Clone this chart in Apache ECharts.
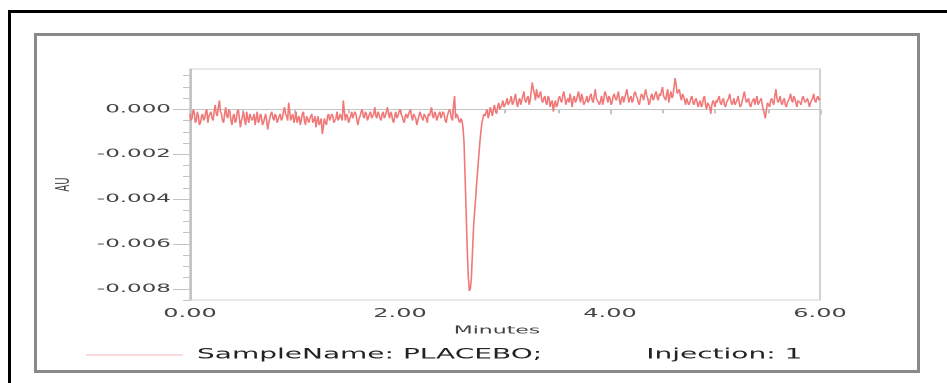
<!DOCTYPE html>
<html>
<head>
<meta charset="utf-8">
<script src="https://cdn.jsdelivr.net/npm/echarts@6/dist/echarts.min.js"></script>
<style>
html, body { margin: 0; padding: 0; background: #fff; width: 947px; height: 383px; overflow: hidden; }
#outer { position: absolute; left: 8px; top: 10px; right: 0; bottom: 0; border-top: 3px solid #000; border-left: 3px solid #000; }
#frame { position: absolute; left: 34px; top: 33px; width: 886px; height: 340px; box-sizing: border-box; border: 3px solid #8a8a8a; background: #fff; }
/* the original print is stretched sideways, so the chart is drawn at half width and scaled */
#main { position: absolute; left: 0; top: 0; width: 473.5px; height: 383px; transform: scaleX(2); transform-origin: 0 0; }
</style>
</head>
<body>
<div id="outer"></div>
<div id="frame"></div>
<div id="main"></div>
<script>
var sampleName = 'SampleName: PLACEBO;';
var injection = 'Injection: 1';
var xTitle = 'Minutes';
var yTitle = 'AU';

// detector trace, one reading every 0.01 min from 0.00 to 6.00 (20 per row = 0.2 min)
var startTime = 0;
var sampleStep = 0.01;
var absorbance = [
  -0.0002, -0.0005, -0.0004, 0.0000, -0.0001, -0.0006, -0.0005, -0.0001, -0.0003, -0.0007, -0.0006, -0.0003, -0.0002, -0.0005, -0.0004, -0.0001, 0.0000, -0.0006, -0.0003, -0.0002,
  -0.0001, -0.0004, -0.0005, -0.0001, 0.0002, -0.0002, -0.0003, 0.0001, 0.0004, -0.0001, -0.0002, -0.0005, -0.0006, -0.0002, 0.0001, -0.0003, -0.0004, 0.0000, -0.0001, -0.0005,
  -0.0007, -0.0003, -0.0002, -0.0006, -0.0005, -0.0001, 0.0000, -0.0004, -0.0008, -0.0005, -0.0003, -0.0001, -0.0005, -0.0007, -0.0001, -0.0004, -0.0006, -0.0002, -0.0002, -0.0005,
  -0.0004, -0.0002, -0.0007, -0.0004, -0.0001, -0.0006, -0.0005, -0.0002, -0.0003, -0.0007, -0.0006, -0.0004, -0.0002, -0.0005, -0.0009, -0.0006, -0.0004, -0.0002, -0.0001, -0.0004,
  -0.0005, -0.0002, -0.0003, -0.0006, -0.0006, -0.0003, -0.0002, -0.0005, -0.0004, -0.0001, 0.0001, -0.0002, -0.0003, -0.0005, 0.0003, -0.0001, -0.0005, -0.0003, -0.0002, -0.0006,
  -0.0004, -0.0001, -0.0006, -0.0004, -0.0003, -0.0007, -0.0005, -0.0002, -0.0001, -0.0005, -0.0007, -0.0003, -0.0004, -0.0006, -0.0006, -0.0003, -0.0002, -0.0006, -0.0005, -0.0003,
  -0.0008, -0.0005, -0.0003, -0.0007, -0.0006, -0.0004, -0.0011, -0.0008, -0.0004, -0.0006, -0.0007, -0.0003, -0.0002, -0.0005, -0.0005, -0.0002, -0.0003, -0.0006, -0.0006, -0.0004,
  -0.0001, -0.0005, -0.0004, -0.0002, -0.0002, -0.0005, 0.0004, -0.0001, -0.0005, -0.0002, -0.0003, -0.0006, -0.0006, -0.0003, -0.0001, -0.0004, -0.0004, -0.0001, -0.0002, -0.0005,
  -0.0007, -0.0004, -0.0003, -0.0001, 0.0000, -0.0003, -0.0004, -0.0001, -0.0002, -0.0005, -0.0005, -0.0002, -0.0001, -0.0004, -0.0003, -0.0002, 0.0001, -0.0003, -0.0004, -0.0001,
  -0.0002, -0.0004, -0.0005, -0.0002, -0.0001, -0.0004, -0.0003, -0.0001, 0.0001, -0.0002, -0.0004, -0.0001, -0.0002, -0.0005, -0.0006, -0.0003, -0.0001, -0.0004, -0.0003, -0.0001,
  0.0000, -0.0002, -0.0003, -0.0005, -0.0006, -0.0003, -0.0002, -0.0004, -0.0004, -0.0001, 0.0000, -0.0003, -0.0005, -0.0002, -0.0002, -0.0004, -0.0007, -0.0005, -0.0003, -0.0001,
  -0.0001, -0.0004, -0.0005, -0.0002, -0.0002, -0.0004, -0.0006, -0.0002, -0.0003, -0.0001, 0.0001, -0.0003, -0.0004, -0.0001, -0.0002, -0.0005, -0.0005, -0.0002, -0.0001, -0.0004,
  -0.0004, -0.0001, -0.0002, -0.0005, -0.0006, -0.0003, -0.0003, 0.0000, -0.0001, -0.0004, -0.0005, 0.0002, 0.0006, -0.0004, -0.0002, -0.0003, -0.0005, -0.0006, -0.0004, -0.0005,
  -0.0008, -0.0015, -0.0030, -0.0046, -0.0062, -0.0074, -0.0081, -0.0080, -0.0075, -0.0064, -0.0053, -0.0046, -0.0040, -0.0033, -0.0027, -0.0021, -0.0015, -0.0010, -0.0006, -0.0004,
  -0.0002, -0.0003, -0.0001, 0.0000, -0.0004, -0.0002, 0.0001, -0.0001, -0.0003, 0.0000, 0.0002, -0.0001, -0.0002, 0.0001, 0.0003, 0.0000, 0.0000, 0.0002, 0.0004, 0.0001,
  0.0001, 0.0003, 0.0005, 0.0002, 0.0002, 0.0004, 0.0006, 0.0002, 0.0003, 0.0005, 0.0007, 0.0003, 0.0001, 0.0004, 0.0005, 0.0002, 0.0004, 0.0006, 0.0008, 0.0004,
  0.0003, 0.0005, 0.0006, 0.0002, 0.0004, 0.0008, 0.0012, 0.0009, 0.0007, 0.0004, 0.0009, 0.0006, 0.0005, 0.0007, 0.0008, 0.0004, 0.0003, 0.0005, 0.0006, 0.0003,
  0.0002, 0.0006, 0.0005, 0.0001, 0.0003, 0.0004, -0.0001, 0.0002, 0.0004, 0.0001, 0.0002, 0.0005, 0.0006, 0.0004, 0.0003, 0.0006, 0.0008, 0.0005, 0.0002, 0.0004,
  0.0005, 0.0003, 0.0007, 0.0004, 0.0001, 0.0005, 0.0006, 0.0003, 0.0004, 0.0006, 0.0008, 0.0005, 0.0003, 0.0007, 0.0005, 0.0002, 0.0002, 0.0004, 0.0006, 0.0003,
  0.0004, 0.0006, 0.0007, 0.0004, 0.0003, 0.0006, 0.0009, 0.0005, 0.0005, 0.0003, 0.0002, 0.0004, 0.0006, 0.0002, 0.0004, 0.0008, 0.0007, 0.0005, 0.0003, 0.0006,
  0.0005, 0.0002, 0.0003, 0.0006, 0.0007, 0.0005, 0.0004, 0.0006, 0.0008, 0.0004, 0.0002, 0.0005, 0.0006, 0.0003, 0.0005, 0.0007, 0.0009, 0.0006, 0.0003, 0.0005,
  0.0006, 0.0003, 0.0004, 0.0007, 0.0008, 0.0006, 0.0005, 0.0003, 0.0002, 0.0005, 0.0007, 0.0006, 0.0004, 0.0007, 0.0009, 0.0006, 0.0005, 0.0002, 0.0003, 0.0006,
  0.0007, 0.0004, 0.0005, 0.0007, 0.0008, 0.0005, 0.0004, 0.0007, 0.0006, 0.0008, 0.0010, 0.0006, 0.0005, 0.0004, 0.0007, 0.0009, 0.0003, 0.0006, 0.0008, 0.0005,
  0.0006, 0.0010, 0.0014, 0.0011, 0.0007, 0.0008, 0.0009, 0.0006, 0.0004, 0.0007, 0.0006, 0.0004, 0.0002, 0.0005, 0.0005, 0.0002, 0.0003, 0.0005, 0.0006, 0.0003,
  0.0002, 0.0004, 0.0005, 0.0003, 0.0001, 0.0003, 0.0004, 0.0001, 0.0002, 0.0005, 0.0006, 0.0002, 0.0000, 0.0003, 0.0003, 0.0001, -0.0002, 0.0002, 0.0004, 0.0003,
  0.0001, 0.0004, 0.0003, 0.0005, 0.0006, 0.0003, 0.0002, 0.0004, 0.0005, 0.0002, 0.0001, 0.0003, 0.0004, 0.0005, 0.0007, 0.0004, 0.0002, 0.0003, 0.0005, 0.0002,
  0.0003, 0.0004, 0.0006, 0.0003, 0.0001, 0.0002, 0.0004, 0.0006, 0.0008, 0.0005, 0.0003, 0.0004, 0.0005, 0.0002, 0.0001, 0.0003, 0.0004, 0.0005, 0.0002, 0.0004,
  0.0006, 0.0002, 0.0003, 0.0004, 0.0005, 0.0002, 0.0000, -0.0002, -0.0004, 0.0000, 0.0003, 0.0002, 0.0001, 0.0004, 0.0005, 0.0003, 0.0002, 0.0006, 0.0009, 0.0005,
  0.0003, 0.0004, 0.0006, 0.0003, 0.0002, 0.0004, 0.0005, 0.0002, 0.0001, 0.0003, 0.0004, 0.0005, 0.0007, 0.0004, 0.0003, 0.0006, 0.0005, 0.0003, 0.0001, 0.0004,
  0.0004, 0.0003, 0.0002, 0.0005, 0.0006, 0.0004, 0.0003, 0.0004, 0.0005, 0.0003, 0.0001, 0.0003, 0.0004, 0.0005, 0.0007, 0.0004, 0.0003, 0.0005, 0.0006, 0.0004,
  0.0005
];

// axis ticks
var yLabelTicks = [-0.008, -0.006, -0.004, -0.002, 0];
var yMinorTicks = [-0.0085, -0.0075, -0.007, -0.0065, -0.0055, -0.005, -0.0045, -0.0035, -0.003, -0.0025,
  -0.0015, -0.001, -0.0005, 0.0005, 0.001, 0.0015];

var trace = absorbance.map(function (v, i) {
  return [+(startTime + i * sampleStep).toFixed(2), v];
});

var font = 'DejaVu Sans';
var axisGrey = '#c4c4c4';

var myChart = echarts.init(document.getElementById('main'), null, { devicePixelRatio: 2 });
var option = {
  animation: false,
  grid: {
    left: 95, top: 69, width: 315, height: 231,
    show: true, borderColor: '#d2d2d2', borderWidth: 1
  },
  legend: {
    left: 37.5, top: 343,
    itemWidth: 48.5, itemHeight: 16,
    data: [sampleName],
    lineStyle: { color: '#f5b5b5', width: 1 },
    itemStyle: { opacity: 0 },
    formatter: function (name) {
      return '{a|' + name + '}{b|' + injection + '}';
    },
    textStyle: {
      rich: {
        a: { fontFamily: font, fontSize: 14, lineHeight: 16, color: '#222', padding: [0, 0, 0, 2] },
        b: { fontFamily: font, fontSize: 14, lineHeight: 16, color: '#222', padding: [0, 0, 0, 52] }
      }
    }
  },
  xAxis: {
    type: 'value',
    min: 0, max: 6, interval: 2,
    name: xTitle, nameLocation: 'middle', nameGap: 20,
    nameTextStyle: { fontFamily: font, fontSize: 11, color: '#444', padding: [0, 8, 0, 0] },
    axisLine: { lineStyle: { color: axisGrey } },
    axisTick: { show: true, length: 5, lineStyle: { color: axisGrey } },
    minorTick: { show: true, splitNumber: 4, length: 4, lineStyle: { color: axisGrey } },
    splitLine: { show: false },
    axisLabel: {
      margin: 8, fontFamily: font, fontSize: 12, color: '#444',
      formatter: function (v) { return v.toFixed(2); }
    }
  },
  yAxis: [{
    type: 'value',
    min: -0.0085, max: 0.0018,
    name: yTitle, nameLocation: 'middle', nameGap: 58,
    nameTextStyle: { fontFamily: font, fontSize: 10, color: '#444' },
    axisLine: { show: true, lineStyle: { color: axisGrey } },
    axisTick: { show: true, length: 8.5, customValues: yLabelTicks, lineStyle: { color: axisGrey } },
    splitLine: { show: false },
    axisLabel: {
      margin: 9.5, fontFamily: font, fontSize: 11.5, color: '#444',
      customValues: yLabelTicks,
      formatter: function (v) { return (Math.round(v * 10000) / 10000).toFixed(3); }
    }
  }, {
    type: 'value',
    position: 'left',
    min: -0.0085, max: 0.0018,
    axisLine: { show: false },
    axisTick: { show: true, length: 3.5, customValues: yMinorTicks, lineStyle: { color: axisGrey } },
    axisLabel: { show: false },
    splitLine: { show: false }
  }],
  series: [{
    name: sampleName,
    type: 'line',
    yAxisIndex: 0,
    data: trace,
    symbol: 'none',
    sampling: false,
    color: '#f07878',
    lineStyle: { color: '#f07878', width: 0.8 }
  }]
};
myChart.setOption(option);
</script>
</body>
</html>
